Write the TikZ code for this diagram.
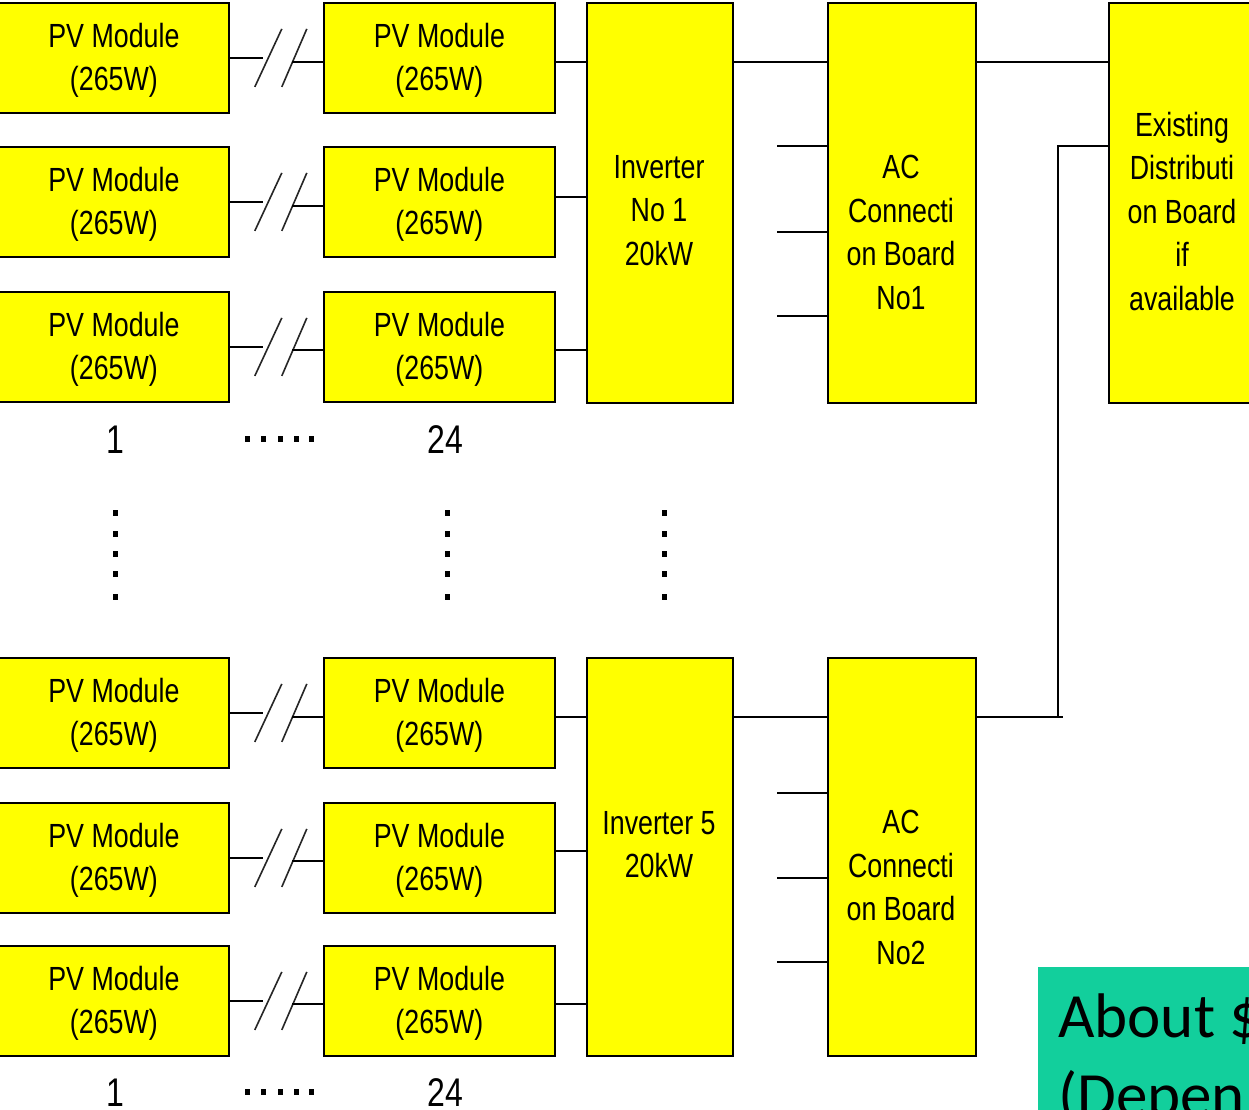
\documentclass[tikz,border=0pt]{standalone}
\usepackage{fontspec}
\usetikzlibrary{calc}
\setmainfont[FakeStretch=0.8]{Liberation Sans}
\newfontfamily\calib{Carlito}
\definecolor{boxyellow}{HTML}{FFFF00}
\definecolor{notegreen}{HTML}{12CF9C}
\tikzset{
  box/.style={draw=black, line width=1.8pt, fill=boxyellow, inner sep=0pt, anchor=north west},
  txt/.style={font=\fontsize{33.5}{43.5}\selectfont, align=center, inner sep=0pt, yshift=-2.5pt},
  numlbl/.style={font=\fontsize{40}{44}\selectfont, inner sep=0pt},
  wire/.style={line width=1.8pt},
  slash/.style={line width=1.6pt, draw=black!85},
  dotsq/.style={fill=black},
}
\begin{document}
\begin{tikzpicture}[x=1pt,y=-1pt]
\useasboundingbox (0,0) rectangle (1249,1109);
\clip (0,0) rectangle (1249,1109);
\fill[white] (0,0) rectangle (1249,1109);

% inverters, AC boards, distribution board
\node[box, minimum width=146, minimum height=400] (inv1) at (586,2) {};
\node[box, minimum width=146, minimum height=398] (inv5) at (586,657) {};
\node[box, minimum width=148, minimum height=400] (ac1) at (827,2) {};
\node[box, minimum width=148, minimum height=398] (ac2) at (827,657) {};
\node[box, minimum width=170, minimum height=400] (edb) at (1108,2) {};

\node[txt] (tinv1) at (659,208) {Inverter\\No 1\\20kW};
\node[txt] (tinv5) at (659,842) {Inverter 5\\20kW};
\node[txt] (tac1) at (901,230) {AC\\Connecti\\on Board\\No1};
\node[txt] (tac2) at (901,885) {AC\\Connecti\\on Board\\No2};
\node[txt] (tedb) at (1182,209) {Existing\\Distributi\\on Board\\if\\available};

% PV module rows: index/top/right-line y/module-to-inverter y/inverter
\foreach \r/\yt/\yr/\yi/\inv in {1/2/62/62/inv1, 2/146/206/197/inv1, 3/291/350/350/inv1,
                                 4/657/717/717/inv5, 5/802/861/851/inv5, 6/945/1004/1004/inv5}{
  \node[box, minimum width=230, minimum height=110] (L\r) at (-2,\yt) {};
  \node[box, minimum width=231, minimum height=110] (R\r) at (323,\yt) {};
  \node[txt] at (L\r.center) {PV Module\\(265W)};
  \node[txt] at (R\r.center) {PV Module\\(265W)};
  \draw[wire] (L\r.east) -- ++(33,0) coordinate (brk\r);
  \draw[slash] ($(brk\r)+(-8,29)$) -- ++(27,-58);
  \draw[slash] ($(brk\r)+(19,29)$) -- ++(25,-58);
  \draw[wire] (R\r.west |- 0,\yr) -- ++(-31,0);
  \draw[wire] (R\r.east |- 0,\yi) -- (\inv.west |- 0,\yi);
}

% inverter to AC boards
\draw[wire] (inv1.east |- 0,62) -- (ac1.west |- 0,62);
\draw[wire] (inv5.east |- 0,717) -- (ac2.west |- 0,717);

% AC board input stubs
\foreach \y in {146,232,316}{ \draw[wire] (ac1.west |- 0,\y) -- ++(-50,0); }
\foreach \y in {793,878,962}{ \draw[wire] (ac2.west |- 0,\y) -- ++(-50,0); }

% AC boards to distribution board
\draw[wire] (ac1.east |- 0,62) -- (edb.west |- 0,62);
\draw[wire] (ac2.east |- 0,717) -- (1063,717);
\coordinate (jn) at (1058,717);
\draw[wire] (jn) -- (1058,146) -- (edb.west |- 0,146);

% numbering and ellipsis dots
\foreach \dy in {0,653}{
  \node[numlbl] (n1\dy) at (115,440+\dy) {1};
  \node[numlbl] (n24\dy) at (445,440+\dy) {24};
  \foreach \x in {247,263,280,296,311}{
    \fill[dotsq] (\x-2.5,439+\dy-3) rectangle ++(5,6);
  }
}
\foreach \x in {115,447,664}{
  \foreach \y in {513,534,554,574,597}{
    \fill[dotsq] (\x-2.5,\y-3) rectangle ++(5,6);
  }
}

% green note
\node[fill=notegreen, inner sep=0pt, minimum width=230, minimum height=160, anchor=north west] (note) at (1038,967) {};
\node[font=\calib\fontsize{63}{78}\selectfont, anchor=base west, inner sep=0pt] (note1) at (1058,1037) {About \$};
\node[font=\calib\fontsize{63}{78}\selectfont, anchor=base west, inner sep=0pt] (note2) at (1058,1116) {(Depen};
\end{tikzpicture}
\end{document}
